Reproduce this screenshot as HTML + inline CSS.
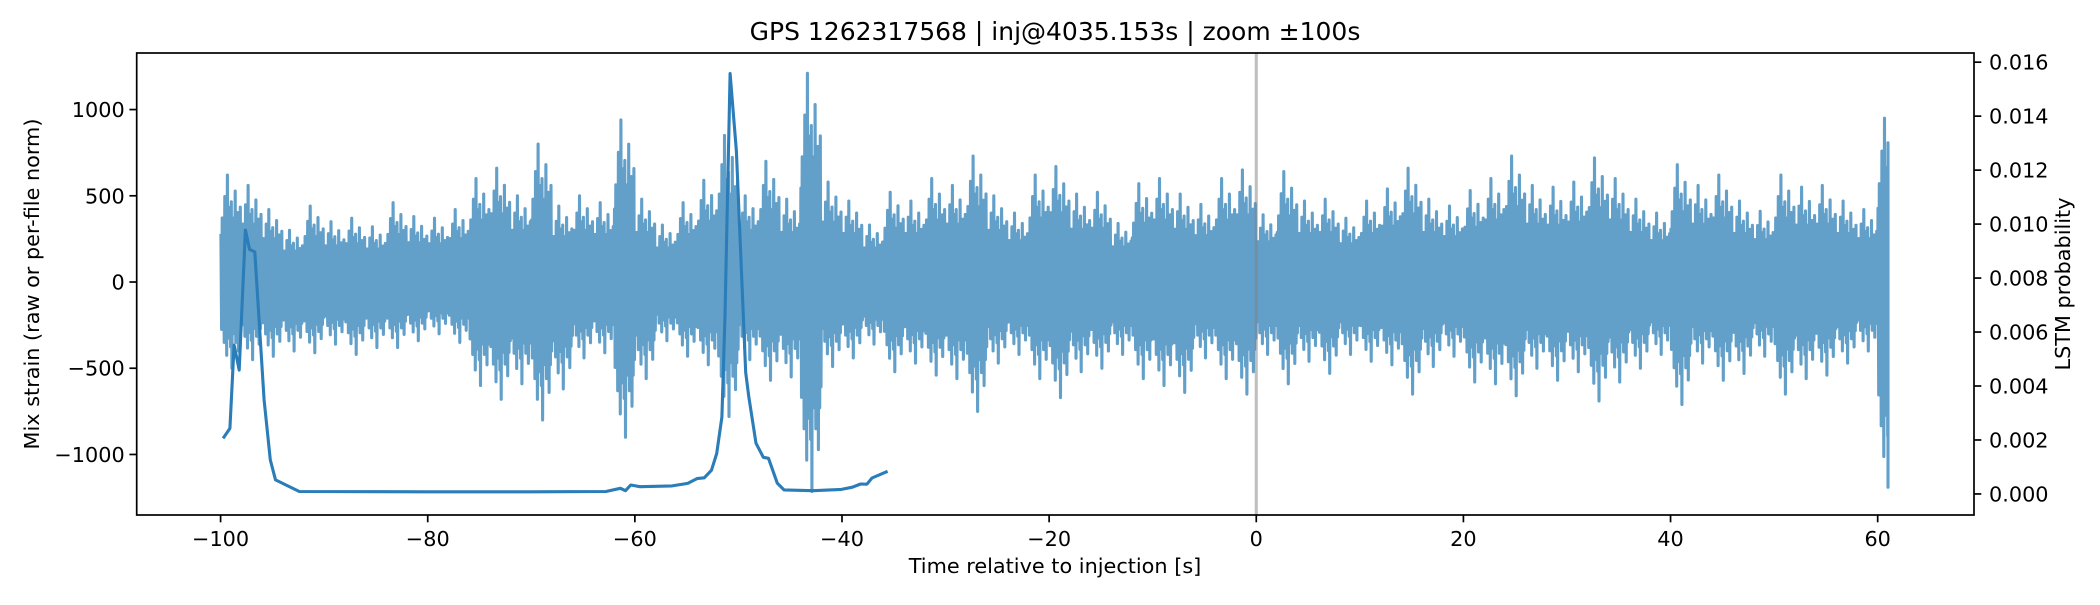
<!DOCTYPE html>
<html><head><meta charset="utf-8"><style>
html,body{margin:0;padding:0;background:#fff;}
svg text{font-family:"DejaVu Sans","Liberation Sans",sans-serif;fill:#000;}
</style></head><body>
<svg id="chart" width="2100" height="600" viewBox="0 0 2100 600" xmlns="http://www.w3.org/2000/svg">
<rect x="0" y="0" width="2100" height="600" fill="#fff"/>
<g id="plot"></g>
<g id="axes"></g>
<text x="1055" y="40" font-size="25" text-anchor="middle">GPS 1262317568 | inj@4035.153s | zoom ±100s</text>
<text x="1055" y="573" font-size="20.8" text-anchor="middle">Time relative to injection [s]</text>
<text transform="translate(39,284) rotate(-90)" font-size="20.8" text-anchor="middle">Mix strain (raw or per-file norm)</text>
<text transform="translate(2070,284) rotate(-90)" font-size="20.8" text-anchor="middle">LSTM probability</text>
</svg>
<script>
// ---- data ----
const binCenters = [-99,-97,-95,-93,-91,-89,-87,-85,-83,-81,-79,-77,-75,-73,-71,-69,-67,-65,-63,-61,-59,-57,-55,-53,-51,-49,-47,-45,-43,-41,-39,-37,-35,-33,-31,-29,-27,-25,-23,-21,-19,-17,-15,-13,-11,-9,-7,-5,-3,-1,1,3,5,7,9,11,13,15,17,19,21,23,25,27,29,31,33,35,37,39,41,43,45,47,49,51,53,55,57,59,61];
const strainMax = [620,560,420,300,440,350,370,320,460,380,370,420,600,660,500,800,440,500,460,940,480,330,460,590,850,500,700,480,1210,580,470,330,520,470,600,560,730,500,400,620,670,510,520,340,570,600,510,450,600,650,390,640,470,480,370,470,540,660,480,440,530,600,730,560,550,580,720,600,480,400,680,560,620,470,410,620,550,560,470,420,950];
const strainMin = [-500,-450,-430,-400,-410,-360,-420,-380,-380,-340,-300,-350,-600,-680,-590,-800,-620,-440,-410,-900,-560,-340,-430,-480,-780,-450,-570,-550,-1215,-490,-440,-360,-520,-470,-540,-560,-750,-470,-420,-560,-670,-520,-500,-420,-560,-600,-640,-440,-560,-650,-420,-590,-460,-530,-420,-460,-480,-650,-490,-430,-580,-590,-660,-500,-570,-520,-690,-580,-500,-420,-710,-470,-570,-530,-430,-650,-560,-540,-470,-400,-1190];
const lstmT = [-99.76,-99.1,-98.7,-98.2,-97.6,-97.2,-96.7,-95.8,-95.2,-94.7,-92.4,-80,-70,-62.8,-61.4,-60.9,-60.4,-59.5,-56.4,-54.9,-54.0,-53.3,-52.6,-52.1,-51.6,-51.3,-50.8,-50.2,-49.3,-49.0,-48.3,-47.6,-47.1,-46.25,-45.6,-42.8,-40.06,-39.0,-38.2,-37.6,-37.1,-35.6];
const lstmP = [0.00206,0.00243,0.00552,0.00459,0.00978,0.00906,0.00897,0.00348,0.00126,0.00052,0.00009,0.00008,0.00008,0.00009,0.00021,0.00012,0.00033,0.00027,0.0003,0.00039,0.00057,0.0006,0.00088,0.0015,0.00285,0.0066,0.01558,0.0127,0.0045,0.0036,0.00188,0.00136,0.00132,0.0004,0.00015,0.00012,0.00017,0.00025,0.00037,0.00036,0.00059,0.00084];
const xTicks = [-100,-80,-60,-40,-20,0,20,40,60];
const yTicks = [-1000,-500,0,500,1000];
const y2Ticks = [0,0.002,0.004,0.006,0.008,0.010,0.012,0.014,0.016];
const y2Labels = ["0.000","0.002","0.004","0.006","0.008","0.010","0.012","0.014","0.016"];
const injTime = 0;

// ---- axes ----
const L=136.7,R=1974,T=53,B=515;
const xMin=-108.1,xMax=69.3,yMin=-1351,yMax=1328,y2Min=-0.00078,y2Max=0.01634;
const sx=v=>L+(v-xMin)/(xMax-xMin)*(R-L);
const sy=v=>B-(v-yMin)/(yMax-yMin)*(B-T);
const sy2=v=>B-(v-y2Min)/(y2Max-y2Min)*(B-T);
const NS="http://www.w3.org/2000/svg";
function mk(tag,attrs,parent){const e=document.createElementNS(NS,tag);for(const k in attrs)e.setAttribute(k,attrs[k]);parent.appendChild(e);return e;}
const plot=document.getElementById('plot'),axes=document.getElementById('axes');

// strain: oscillation shape scaled by each bin's envelope
const upPat=[0.45,0.6,0.5,0.8,0.65,1.0,0.7,0.55,0.75,0.5,0.6,0.85,0.5,0.65,0.55,0.7];
const dnPat=[0.55,0.5,0.7,0.6,0.85,0.65,0.5,0.75,1.0,0.6,0.55,0.7,0.45,0.8,0.6,0.5];
let d="";
binCenters.forEach((c,i)=>{
  const n=upPat.length*2, t0=c-1;
  for(let k=0;k<n;k++){
    const t=Math.min(t0+(k+0.5)*2/n,61);
    if(t<-100) continue;
    const j=k>>1;
    const v=(k%2===0)?strainMax[i]*upPat[j]:strainMin[i]*dnPat[j];
    d+=(d?"L":"M")+sx(t).toFixed(1)+" "+sy(v).toFixed(1);
  }
});
const strain=mk('path',{d:d,fill:'none',stroke:'#62a0ca','stroke-width':3.1,'stroke-linejoin':'round'},plot);



const vl=mk('line',{x1:sx(injTime),x2:sx(injTime),y1:T,y2:B,stroke:'#808080','stroke-opacity':0.5,'stroke-width':3.1},plot);



let d2="";
lstmT.forEach((t,i)=>{d2+=(i?"L":"M")+sx(t).toFixed(1)+" "+sy2(lstmP[i]).toFixed(1);});
const lstm=mk('path',{d:d2,fill:'none',stroke:'#2a7db8','stroke-width':3.1,'stroke-linejoin':'round'},plot);



const fr=mk('rect',{x:L,y:T,width:R-L,height:B-T,fill:'none',stroke:'#000','stroke-width':1.7},axes);



xTicks.forEach(v=>{
  const x=sx(v);
  const tk=mk('line',{x1:x,x2:x,y1:B,y2:B+7.3,stroke:'#000','stroke-width':1.7},axes);
  
  
  const tx=mk('text',{x:x,y:546,'font-size':20.8,'text-anchor':'middle'},axes);
  tx.textContent=(v<0?"\u2212"+(-v):""+v);
  
  
});
yTicks.forEach(v=>{
  const y=sy(v);
  const tk=mk('line',{x1:L-7.3,x2:L,y1:y,y2:y,stroke:'#000','stroke-width':1.7},axes);
  
  
  const tx=mk('text',{x:L-12,y:y+7.5,'font-size':20.8,'text-anchor':'end'},axes);
  tx.textContent=(v<0?"\u2212"+(-v):""+v);
  
  
});
y2Ticks.forEach((v,i)=>{
  const y=sy2(v);
  const tk=mk('line',{x1:R,x2:R+7.3,y1:y,y2:y,stroke:'#000','stroke-width':1.7},axes);
  
  
  const tx=mk('text',{x:R+15,y:y+7.5,'font-size':20.8,'text-anchor':'start'},axes);
  tx.textContent=y2Labels[i];
  
  
});
</script>
</body></html>
